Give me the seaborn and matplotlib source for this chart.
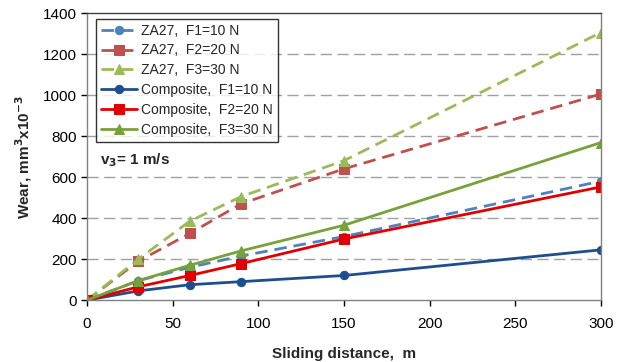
import matplotlib
matplotlib.use("Agg")
import matplotlib.pyplot as plt
import seaborn as sns
import pandas as pd

distance = [0, 30, 60, 90, 150, 300]
za27_f1 = [0, 95, 160, 215, 310, 580]
za27_f2 = [0, 190, 325, 470, 640, 1005]
za27_f3 = [0, 200, 385, 505, 680, 1305]
comp_f1 = [0, 45, 75, 90, 120, 245]
comp_f2 = [0, 65, 120, 178, 298, 552]
comp_f3 = [0, 95, 170, 240, 365, 768]

labels = ["ZA27,  F1=10 N", "ZA27,  F2=20 N", "ZA27,  F3=30 N",
          "Composite,  F1=10 N", "Composite,  F2=20 N", "Composite,  F3=30 N"]
series = [za27_f1, za27_f2, za27_f3, comp_f1, comp_f2, comp_f3]
colors = ["#4F81BD", "#C0504D", "#9BBB59", "#1F4E8C", "#E00000", "#77A23A"]
markers = ["o", "s", "^", "o", "s", "^"]
dashed = [True, True, True, False, False, False]

sns.set_theme(style="white")
plt.rcParams['font.family'] = ['Liberation Sans', 'DejaVu Sans']

fig = plt.figure(figsize=(6.22, 3.62), dpi=100)
ax = fig.add_axes([0.14, 0.171, 0.826, 0.793])

for vals, lab, c, m, d in zip(series, labels, colors, markers, dashed):
    df = pd.DataFrame({"x": distance, "y": vals})
    sns.lineplot(data=df, x="x", y="y", ax=ax, color=c, marker=m,
                 markersize=7 if m != "o" else 6, markeredgecolor=c,
                 linewidth=2, label=lab,
                 linestyle=(0, (4.5, 2.5)) if d else "-")

ax.set_xlim(0, 300)
ax.set_ylim(0, 1400)
ax.set_xticks([0, 50, 100, 150, 200, 250, 300])
ax.set_yticks(range(0, 1401, 200))
for yv in range(200, 1300, 200):
    ax.axhline(yv, color="#A0A0A0", linestyle=(0, (8, 4)), linewidth=1, zorder=0)

ax.tick_params(axis="both", labelsize=11, colors="#000000", length=4,
               direction="out", width=1, bottom=True, left=True)
ax.tick_params(axis="x", pad=8)
for t in ax.get_xticklines() + ax.get_yticklines():
    t.set_color("#808080")
for s in ["left", "bottom", "right"]:
    ax.spines[s].set_color("#808080")
ax.spines["top"].set_color("#404040")
for s in ax.spines.values():
    s.set_linewidth(1)

ax.set_xlabel("Sliding distance,  m", fontsize=11, fontweight="bold", labelpad=12)
ax.set_ylabel("Wear, mm$^\\mathbf{3}$x10$^\\mathbf{-3}$", fontsize=11, fontweight="bold", labelpad=6)

leg = ax.legend(loc="upper left", bbox_to_anchor=(0.017, 0.98), fontsize=10,
                frameon=True, fancybox=False, edgecolor="black",
                handlelength=2.6, borderpad=0.35, labelspacing=0.42,
                handletextpad=0.3, borderaxespad=0.0)
leg.get_frame().set_linewidth(1)

ax.text(0.025, 0.488, "v$_\\mathbf{3}$= 1 m/s", transform=ax.transAxes,
        fontsize=11, fontweight="bold", va="center")

fig.savefig("out.png", dpi=100)
